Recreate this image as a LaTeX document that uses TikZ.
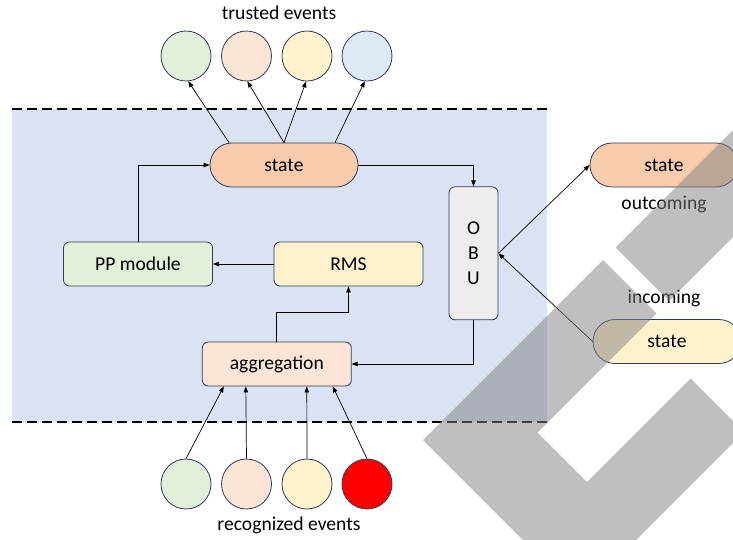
\documentclass[tikz,border=0pt]{standalone}
\usepackage{fontspec}
\setmainfont{Carlito}
\usetikzlibrary{arrows.meta}
\definecolor{bluebg}{HTML}{DAE3F3}
\definecolor{orfill}{HTML}{F8CBAD}
\definecolor{grfill}{HTML}{E2F0D9}
\definecolor{pefill}{HTML}{FBE5D6}
\definecolor{yefill}{HTML}{FFF2CC}
\definecolor{lbfill}{HTML}{DEEBF7}
\definecolor{obufill}{HTML}{EDEDED}
\definecolor{rdfill}{HTML}{FF0000}
\definecolor{bord}{HTML}{2F3A56}
\definecolor{wmgray}{HTML}{808080}
\tikzset{
  txt/.style={font=\fontsize{19.6}{25}\selectfont, text=black, inner sep=0pt},
  statebox/.style={txt, draw=bord, line width=0.8pt, rounded corners=22pt, minimum width=148pt, minimum height=44pt},
  modbox/.style={txt, draw=bord, line width=0.8pt, rounded corners=6pt, minimum width=149pt, minimum height=44pt},
  evt/.style={circle, draw=bord, line width=0.8pt, minimum size=50pt, inner sep=0pt},
  arr/.style={draw=black, line width=0.7pt, -{Triangle[length=6pt,width=4.5pt]}},
  dashline/.style={draw=black, line width=1.6pt, dash pattern=on 10pt off 5pt},
  wm/.style={fill=wmgray, fill opacity=0.5}
}
\begin{document}
\begin{tikzpicture}[x=1pt,y=-1pt]
\clip (0,0) rectangle (733,539);
\fill[white] (0,0) rectangle (733,539);
% background area
\fill[bluebg] (12,109) rectangle (547,422);
\draw[dashline] (12,109) -- (548,109);
\draw[dashline] (12,422) -- (548,422);
% nodes
\node[statebox, fill=orfill] (st) at (284,165) {state};
\node[modbox, fill=grfill] (pp) at (138,264) {PP module};
\node[modbox, fill=yefill] (rms) at (348.5,264) {RMS};
\node[modbox, fill=pefill] (agg) at (276.8,364) {aggregation};
\node[txt, draw=bord, line width=0.8pt, rounded corners=6pt, fill=obufill, minimum width=49pt, minimum height=133pt, align=center] (obu) at (473.5,253.3) {O\\B\\U};
\node[statebox, fill=orfill] (out) at (664,165) {state};
\node[statebox, fill=yefill] (in) at (667,341.5) {state};
\node[txt] (outl) at (664,204) {outcoming};
\node[txt] (inl) at (664,298) {incoming};
% trusted events
\node[evt, fill=grfill] (t1) at (186,56) {};
\node[evt, fill=pefill] (t2) at (246.5,56) {};
\node[evt, fill=yefill] (t3) at (307,56) {};
\node[evt, fill=lbfill] (t4) at (367,56) {};
\node[txt] (tev) at (279,13) {trusted events};
% recognized events
\node[evt, fill=grfill] (b1) at (186,484) {};
\node[evt, fill=pefill] (b2) at (246.5,484) {};
\node[evt, fill=yefill] (b3) at (307,484) {};
\node[evt, fill=rdfill] (b4) at (367,484) {};
\node[txt] (rev) at (289,525) {recognized events};
% connectors
\draw[arr] ([xshift=-55pt]st.north) -- (t1.-85);
\draw[arr] (st.north) -- (t2.-88);
\draw[arr] (st.north) -- (t3.-92);
\draw[arr] ([xshift=51pt]st.north) -- (t4.-95);
\draw[arr] (pp.north) |- (st.west);
\draw[arr] (st.east) -| (obu.north);
\draw[arr] (rms.west) -- (pp.east);
\draw[arr] (agg.north) -- ++(0,-29) -| (rms.south);
\draw[arr] (obu.south) |- (agg.east);
\draw[arr] (obu.east) -- (out.west);
\draw[arr] (in.west) -- (obu.east);
\draw[arr] (b1.north) -- ([xshift=-53pt]agg.south);
\draw[arr] (b2.north) -- ([xshift=-31pt]agg.south);
\draw[arr] (b3.north) -- ([xshift=30pt]agg.south);
\draw[arr] (b4.north) -- ([xshift=56pt]agg.south);
% watermark
\fill[wm] (615.5,247.5) -- (760,103) -- (760,210) -- (669,301) -- cycle;
\fill[wm] (603,260) -- (656.5,313.5) -- (537.5,432.5) -- (587,482) -- (690.5,378.5)
  -- (744,432) -- (616,560) -- (543,560) -- (423,440) -- cycle;
\end{tikzpicture}
\end{document}
